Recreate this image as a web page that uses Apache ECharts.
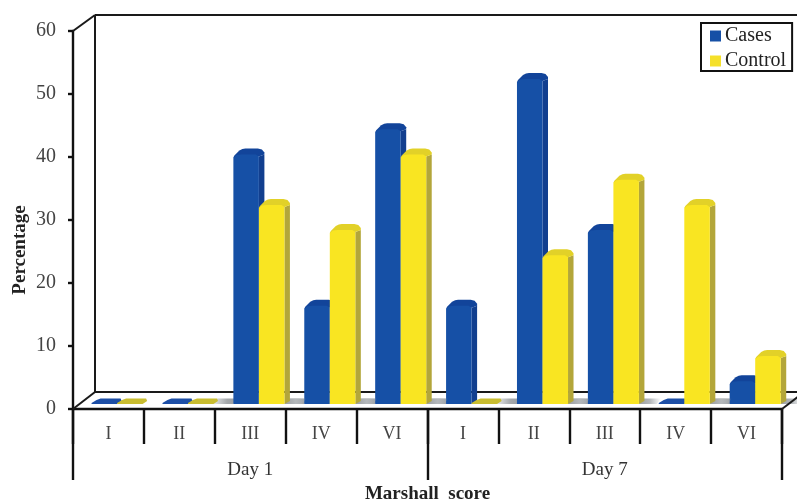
<!DOCTYPE html>
<html><head><meta charset="utf-8">
<style>html,body{margin:0;padding:0;background:#fff}#c{width:797px;height:501px}</style>
<script src="https://cdn.jsdelivr.net/npm/echarts@6/dist/echarts.min.js"></script>
</head><body><div id="c"></div>
<script>
const scores = ['I','II','III','IV','VI','I','II','III','IV','VI'];
const days = ['Day 1','Day 7'];
const cases = [0,0,40,16,44,16,52,28,0,4];
const control = [0,0,32,28,40,0,24,36,32,8];
const yTicks = {min:0,max:60,interval:10};

const serif = '"Liberation Serif","Times New Roman",serif';
const ink = '#111';
const depth = {dx:22, dy:17};
const lift = 5, topLift = 3.5, sideW = 5.5, capH = 5;

function barRenderer(slot, pal){
  return function(params, api){
    const cat = api.value(0), v = api.value(1);
    const cw = api.size([1,0])[0];
    const left = api.coord([cat,0])[0] - cw/2;
    const y0 = api.coord([cat,0])[1];
    const w = cw*0.36;
    const x = left + cw*0.262 + slot*w;
    const yb = y0 - lift, yt = api.coord([cat,v])[1] - topLift;
    const children = [];
    if (v === 0) {
      children.push({type:'polygon',shape:{points:[
        [x,yb],[x+w,yb],[x+w+sideW-1,yb-3],[x+w+sideW-2,yb-5.5],[x+9,yb-5.5],[x+5,yb-4],[x,yb-1]
      ]},style:{fill:pal.flat}});
    } else {
      if (slot === 0) {
        children.push({type:'polygon',shape:{points:[[x-20,yb],[x,yb],[x+3,yb-5.5],[x-16,yb-5.5]]},
          style:{fill:{type:'linear',x:0,y:0,x2:1,y2:0,colorStops:[{offset:0,color:'rgba(160,165,170,0.25)'},{offset:0.6,color:'#a4a8ab'},{offset:1,color:'#9a9ea2'}]}}});
      } else {
        children.push({type:'polygon',shape:{points:[[x+w,yb],[x+w+18,yb],[x+w+22,yb-5.5],[x+w+4,yb-5.5]]},
          style:{fill:{type:'linear',x:0,y:0,x2:1,y2:0,colorStops:[{offset:0,color:'#9a9ea2'},{offset:0.5,color:'#b4b8bb'},{offset:1,color:'rgba(180,185,190,0)'}]}}});
      }
      children.push({type:'polygon',shape:{points:[
        [x+w,yb],[x+w+sideW,yb-3],[x+w+sideW,yt+1],[x+w,yt+3]
      ]},style:{fill:pal.side}});
      children.push({type:'polygon',shape:{points:[
        [x,yt+4],[x+1,yt+2],[x+3,yt],[x+6,yt-capH+2],[x+9,yt-capH+0.5],[x+12,yt-capH],[x+w-1,yt-capH],[x+w+3,yt-capH+1],[x+w+sideW,yt-1],[x+w+sideW,yt+1],[x+w,yt+3]
      ]},style:{fill:pal.cap}});
      children.push({type:'polygon',shape:{points:[
        [x,yb],[x+w,yb],[x+w,yt+3],[x+w-3,yt+1],[x+8,yt+1],[x+3,yt+1.5],[x,yt+4]
      ]},style:{fill:pal.front}});
    }
    return {type:'group',children};
  };
}

function frameParts(api){
  const n = scores.length;
  const cw = api.size([1,0])[0];
  const xl = api.coord([0,0])[0]-cw/2, xr = api.coord([n-1,0])[0]+cw/2;
  const y0 = api.coord([0,0])[1], yTop = api.coord([0,yTicks.max])[1];
  return {xl,xr,y0,yTop,bx:xl+depth.dx,bTop:yTop-depth.dy+1,bFloor:y0-depth.dy,far:xr+depth.dx};
}
const frameStyle = {stroke:'#1a1a1a',lineWidth:2,fill:'none'};
const seg = (a,b,c,d)=>({type:'line',shape:{x1:a,y1:b,x2:c,y2:d},style:frameStyle});

function frameRenderer(params, api){
  const f = frameParts(api);
  return {type:'group',children:[
    seg(f.xl,f.yTop,f.bx,f.bTop), seg(f.xl,f.y0,f.bx,f.bFloor),
    seg(f.bx,f.bTop,f.bx,f.bFloor), seg(f.bx,f.bTop,f.far,f.bTop), seg(f.bx,f.bFloor,f.far,f.bFloor)
  ]};
}
function frontEdgeRenderer(params, api){
  const f = frameParts(api);
  return seg(f.xr,f.y0,f.far,f.bFloor);
}

const chart = echarts.init(document.getElementById('c'),null,{renderer:'canvas'});
chart.setOption({
  animation:false,
  backgroundColor:'#fff',
  textStyle:{fontFamily:serif},
  grid:{left:73,right:15,top:31,bottom:92,containLabel:false,outerBoundsMode:'none'},
  legend:{
    left:701,top:23,orient:'vertical',itemWidth:11,itemHeight:11,itemGap:5,
    padding:[3,6,0,9],borderColor:ink,borderWidth:2,backgroundColor:'#fff',
    data:[{name:'Cases',icon:'rect'},{name:'Control',icon:'rect'}],
    textStyle:{fontFamily:serif,fontSize:20,color:'#222',padding:[0,0,0,-1]},
    selectedMode:false
  },
  xAxis:[
    {type:'category',data:scores,position:'bottom',
     axisLine:{show:true,lineStyle:{color:ink,width:2.4}},
     axisTick:{show:true,length:35,lineStyle:{color:ink,width:2.4},alignWithLabel:false},
     axisLabel:{interval:0,margin:16,fontFamily:serif,fontSize:18,color:'#444'}},
    {type:'category',data:days,position:'bottom',
     axisLine:{show:false},
     axisTick:{show:true,length:71,lineStyle:{color:ink,width:2.4},alignWithLabel:false},
     axisLabel:{margin:52,fontFamily:serif,fontSize:19,color:'#333'},
     name:'Marshall  score',nameLocation:'middle',nameGap:75,
     nameTextStyle:{fontFamily:serif,fontSize:19,fontWeight:'bold',color:'#222'}}
  ],
  yAxis:{type:'value',min:yTicks.min,max:yTicks.max,interval:yTicks.interval,
    axisLine:{show:true,lineStyle:{color:ink,width:2.4}},
    axisTick:{show:true,length:5,lineStyle:{color:ink,width:2.4}},
    splitLine:{show:false},
    axisLabel:{margin:17,fontFamily:serif,fontSize:20,color:'#444'},
    name:'Percentage',nameLocation:'middle',nameGap:43,nameMoveOverlap:false,
    nameTextStyle:{fontFamily:serif,fontSize:19,fontWeight:'bold',color:'#222',padding:[0,60,0,0]}
  },
  series:[
    {type:'custom',name:'frame',silent:true,z:1,clip:false,renderItem:frameRenderer,data:[[0,0]],encode:{x:0,y:1}},
    {type:'custom',name:'Cases',z:3,clip:false,itemStyle:{color:'#1650a6'},
     renderItem:barRenderer(0,{front:'#1650a6',side:'#123f8f',cap:'#12449a',flat:'#1c4ea6'}),
     data:cases.map((v,i)=>[i,v]),encode:{x:0,y:1}},
    {type:'custom',name:'Control',z:4,clip:false,itemStyle:{color:'#f5e02a'},
     renderItem:barRenderer(1,{front:'#f9e522',side:'#b3a63a',cap:'#e2d128',flat:'#c9bd30'}),
     data:control.map((v,i)=>[i,v]),encode:{x:0,y:1}},
    {type:'custom',name:'frontEdge',silent:true,z:5,clip:false,renderItem:frontEdgeRenderer,data:[[0,0]],encode:{x:0,y:1}}
  ]
});
</script></body></html>
